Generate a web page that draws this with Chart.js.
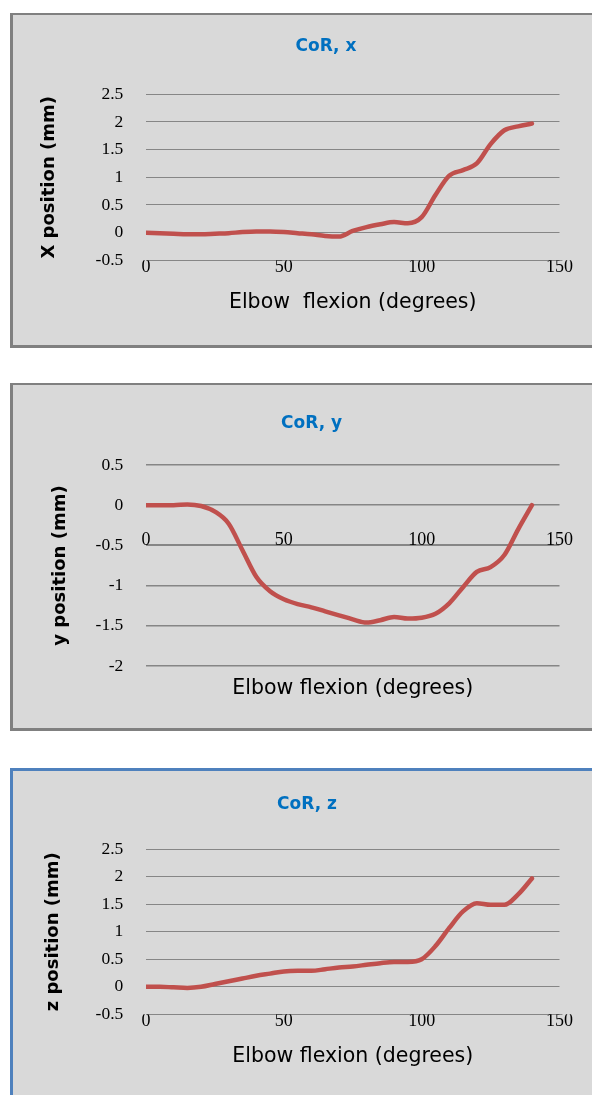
<!DOCTYPE html>
<html>
<head>
<meta charset="utf-8">
<script src="https://cdn.jsdelivr.net/npm/chart.js@4.4.0/dist/chart.umd.min.js"></script>
<style>
    body { margin: 0; width: 592px; height: 1095px; overflow: hidden; background: #fff; }
    .panel { position: absolute; left: 10px; width: 620px; background: #d9d9d9; border-left: 3px solid #808080; }
    .panel canvas { position: absolute; left: 0; top: 0; }
    #p1 { top: 13px; height: 330px; border-top: 2px solid #808080; border-bottom: 3px solid #808080; }
    #p2 { top: 383px; height: 343px; border-top: 2px solid #808080; border-bottom: 3px solid #808080; }
    #p3 { top: 768px; height: 400px; border-top: 3px solid #4f81bd; border-left-color: #4f81bd; }
</style>
</head>
<body>
<div class="panel" id="p1"><canvas id="chartX" width="579" height="330"></canvas></div>
<div class="panel" id="p2"><canvas id="chartY" width="579" height="343"></canvas></div>
<div class="panel" id="p3"><canvas id="chartZ" width="579" height="330"></canvas></div>
<script>
// elbow flexion angle (degrees)
const degrees = [0, 5, 10, 15, 20, 25, 30, 35, 40, 45, 50, 55, 60, 65, 70,
                 75, 80, 85, 90, 95, 100, 105, 110, 115, 120, 125, 130, 135, 140];

// centre of rotation position (mm)
const xPos = [0, -0.01, -0.02, -0.03, -0.03, -0.02, -0.01, 0.01, 0.02, 0.02, 0.01, -0.01, -0.03, -0.06, -0.07,
              0.03, 0.10, 0.15, 0.19, 0.17, 0.28, 0.68, 1.03, 1.13, 1.25, 1.60, 1.85, 1.92, 1.97];
const yPos = [0, 0, 0, 0.01, -0.01, -0.08, -0.23, -0.56, -0.89, -1.07, -1.17, -1.23, -1.27, -1.32, -1.37,
              -1.42, -1.46, -1.43, -1.39, -1.41, -1.40, -1.35, -1.22, -1.02, -0.83, -0.77, -0.62, -0.30, 0];
const zPos = [0, 0, -0.01, -0.02, 0, 0.05, 0.10, 0.15, 0.20, 0.24, 0.28, 0.29, 0.29, 0.32, 0.35,
              0.37, 0.40, 0.43, 0.45, 0.45, 0.50, 0.74, 1.07, 1.37, 1.52, 1.49, 1.49, 1.68, 1.97];

// tick values
const xTicks = [0, 50, 100, 150];
const yTicksXZ = [-0.5, 0, 0.5, 1, 1.5, 2, 2.5];
const yTicksY = [-2, -1.5, -1, -0.5, 0, 0.5];

const lineColor = "#c0504d";
const gridColor = "#868686";

function drawCoR(id, o) {
    const ctx = document.getElementById(id).getContext("2d");
    return new Chart(ctx, {
        type: "line",
        data: {
            datasets: [{
                data: degrees.map((d, i) => ({ x: d, y: o.values[i] })),
                borderColor: lineColor,
                borderWidth: 4.5,
                pointRadius: 0,
                cubicInterpolationMode: "monotone",
                borderCapStyle: "round",
                fill: false
            }]
        },
        options: {
            responsive: false,
            animation: false,
            layout: { padding: { left: o.padLeft, right: 32.5, top: 0, bottom: o.padBottom } },
            plugins: {
                legend: { display: false },
                tooltip: { enabled: false },
                title: {
                    display: true,
                    text: o.title,
                    color: "#0070c0",
                    font: { family: "DejaVu Sans", size: 17, weight: "bold", lineHeight: 1.2 },
                    padding: o.titlePad
                }
            },
            scales: {
                x: {
                    type: "linear",
                    min: 0,
                    max: 150,
                    position: o.xPosition,
                    afterBuildTicks: axis => { axis.ticks = xTicks.map(v => ({ value: v })); },
                    afterFit: axis => { axis.height = o.xHeight; },
                    grid: { display: false, drawTicks: false },
                    border: { display: false },
                    ticks: { color: "#000", padding: o.xTickPad, font: { family: "Liberation Serif", size: 18 } },
                    title: {
                        display: true,
                        text: o.xTitle,
                        color: "#000",
                        padding: 0,
                        font: { family: "DejaVu Sans", size: 20.5 }
                    }
                },
                y: {
                    type: "linear",
                    min: o.yTicks[0],
                    max: o.yTicks[o.yTicks.length - 1],
                    afterBuildTicks: axis => { axis.ticks = o.yTicks.map(v => ({ value: v })); },
                    afterFit: axis => { axis.width = o.yWidth; },
                    grid: { color: gridColor, lineWidth: o.gridWidth, drawTicks: false },
                    border: { display: false },
                    ticks: {
                        color: "#000",
                        padding: 22.7,
                        font: { family: "Liberation Serif", size: 17.5 },
                        callback: v => String(v)
                    },
                    title: {
                        display: true,
                        text: o.yTitle,
                        color: "#000",
                        padding: { top: o.yTitlePad, bottom: 0 },
                        font: { family: "DejaVu Sans", size: 18, weight: "bold" }
                    }
                }
            }
        }
    });
}

// title box height = 17 * 1.2 = 20.4
drawCoR("chartX", {
    values: xPos, title: "CoR, x", yTicks: yTicksXZ,
    xTitle: "Elbow  flexion (degrees)", yTitle: "X position (mm)",
    padLeft: 79.5, padBottom: 30, yWidth: 53.5, yTitlePad: -54.3,
    titlePad: { top: 21.5, bottom: 37.4 }, xPosition: "bottom", xHeight: 54.7, xTickPad: -3.6,
    gridWidth: 1
});

drawCoR("chartY", {
    values: yPos, title: "CoR, y", yTicks: yTicksY,
    xTitle: "Elbow flexion (degrees)", yTitle: "y position (mm)",
    padLeft: 50.7, padBottom: 62, yWidth: 82.3, yTitlePad: -14.1,
    titlePad: { top: 28.1, bottom: 31.5 }, xPosition: { y: -0.5 }, xHeight: 155.5, xTickPad: -16.1,
    gridWidth: c => (c.tick && c.tick.value === -0.5 ? 2 : 1.4)
});

drawCoR("chartZ", {
    values: zPos, title: "CoR, z", yTicks: yTicksXZ,
    xTitle: "Elbow flexion (degrees)", yTitle: "z position (mm)",
    padLeft: 41.5, padBottom: 31.8, yWidth: 91.5, yTitlePad: -12.4,
    titlePad: { top: 23, bottom: 34.9 }, xPosition: "bottom", xHeight: 54.9, xTickPad: -4.3,
    gridWidth: 1
});
</script>
</body>
</html>
